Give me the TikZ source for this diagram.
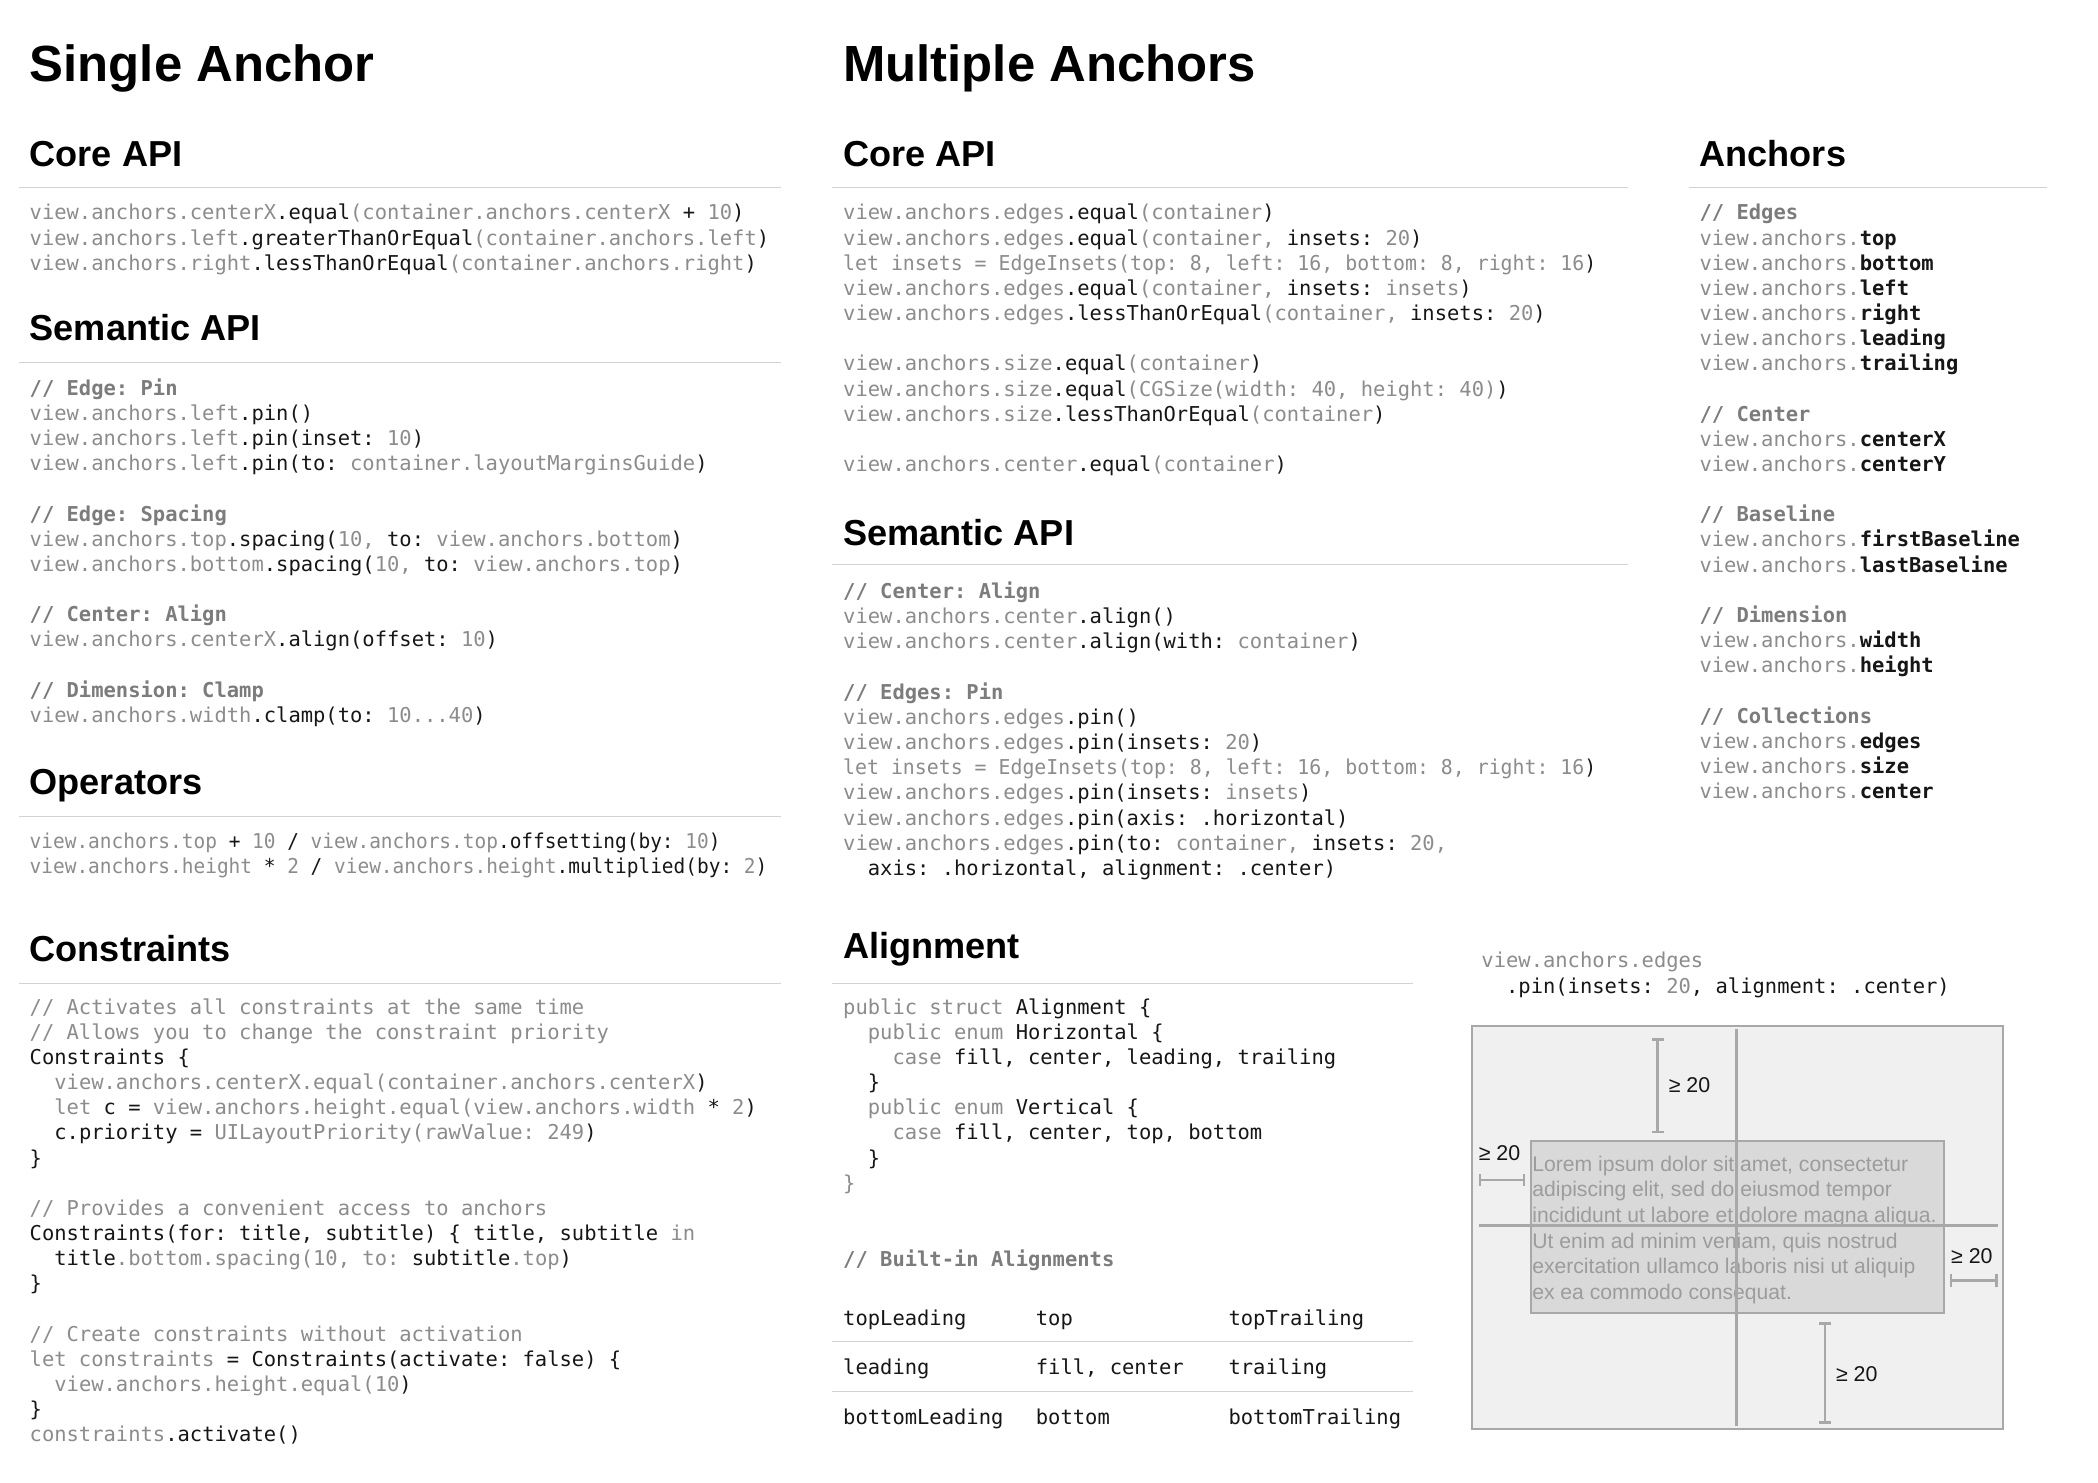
\documentclass[tikz,border=0pt]{standalone}
\usepackage{fontspec}
\usetikzlibrary{arrows.meta}

\newfontfamily\headfont{Liberation Sans}
\newfontfamily\codefont{DejaVu Sans Mono}
\newfontfamily\loremfont{Liberation Sans}

\definecolor{codegray}{HTML}{8C8C8C}
\definecolor{codeblack}{HTML}{161616}
\definecolor{commentgray}{HTML}{7C7C7C}
\definecolor{rulegray}{HTML}{D2D2D2}
\definecolor{boxfill}{HTML}{F0F0F0}
\definecolor{boxline}{HTML}{A8A8A8}
\definecolor{viewfill}{HTML}{D9D9D9}
\definecolor{loremgray}{HTML}{9C9C9C}

\newcommand\kw[1]{\textcolor{codeblack}{#1}}
\newcommand\kwb[1]{\textcolor{codeblack}{\bfseries #1}}
\newcommand\cmt[1]{\textcolor{commentgray}{\bfseries #1}}
\newcommand\ind{\phantom{xx}}
\newcommand\codestrut{\rule{0pt}{13.2pt}}
\newcommand\narrow[2]{\scalebox{#1}[1]{#2}}

\tikzset{
  title/.style={anchor=base west, inner sep=0pt, font=\headfont\bfseries\fontsize{38}{42}\selectfont},
  head/.style={anchor=base west, inner sep=0pt, font=\headfont\bfseries\fontsize{27}{30}\selectfont},
  code/.style={anchor=north west, inner sep=0pt, align=left, text=codegray,
    font=\codefont\fontsize{15.3}{18.8}\selectfont\frenchspacing},
  cell/.style={code, anchor=base west, text=codeblack},
  hrule/.style={draw=rulegray, line width=1pt},
  gauge/.style={draw=boxline, line width=2pt, {Bar[width=9pt]}-{Bar[width=9pt]}},
  gaugelabel/.style={anchor=west, inner sep=0pt, text=codeblack,
    font=\loremfont\fontsize{16}{18}\selectfont},
}

\begin{document}
\begin{tikzpicture}[x=1pt, y=-1pt]
  \useasboundingbox[fill=white] (0,0) rectangle (1568,1108);

  % Titles
  \node[title] (single) at (22,61) {Single Anchor};
  \node[title] (multiple) at (630,61) {Multiple Anchors};

  %-------------------------------------
  % Single anchor column
  %-------------------------------------
  \node[head] (lcorehead) at (22,124.7) {Core API};
  \draw[hrule] (14,140) -- (584,140);
  \node[code] (lcore) at (22,151) {\codestrut view.anchors.centerX\kw{.equal}(container.anchors.centerX \kw{+} 10\kw{)}\\
view.anchors.left\kw{.greaterThanOrEqual}(container.anchors.left\kw{)}\\
view.anchors.right\kw{.lessThanOrEqual}(container.anchors.right\kw{)}};

  \node[head] (lsemhead) at (22,254.7) {Semantic API};
  \draw[hrule] (14,271) -- (584,271);
  \node[code] (lsem) at (22,282) {\codestrut\cmt{// Edge: Pin}\\
view.anchors.left\kw{.pin()}\\
view.anchors.left\kw{.pin(inset:} 10\kw{)}\\
view.anchors.left\kw{.pin(to:} container.layoutMarginsGuide\kw{)}\\
\mbox{}\\
\cmt{// Edge: Spacing}\\
view.anchors.top\kw{.spacing(}10, \kw{to:} view.anchors.bottom\kw{)}\\
view.anchors.bottom\kw{.spacing(}10, \kw{to:} view.anchors.top\kw{)}\\
\mbox{}\\
\cmt{// Center: Align}\\
view.anchors.centerX\kw{.align(offset:} 10\kw{)}\\
\mbox{}\\
\cmt{// Dimension: Clamp}\\
view.anchors.width\kw{.clamp(to:} 10...40\kw{)}};

  \node[head] (lopshead) at (22,593.7) {Operators};
  \draw[hrule] (14,610) -- (584,610);
  \node[code] (lops) at (22,621) {\codestrut\narrow{0.95}{view.anchors.top \kw{+} 10 \kw{/} view.anchors.top\kw{.offsetting(by:} 10\kw{)}}\\
\narrow{0.95}{view.anchors.height \kw{*} 2 \kw{/} view.anchors.height\kw{.multiplied(by:} 2\kw{)}}};

  \node[head] (lconshead) at (22,718.7) {Constraints};
  \draw[hrule] (14,735) -- (584,735);
  \node[code] (lcons) at (22,744.5) {\codestrut// Activates all constraints at the same time\\
// Allows you to change the constraint priority\\
\kw{Constraints \{}\\
\ind view.anchors.centerX.equal(container.anchors.centerX\kw{)}\\
\ind let \kw{c =} view.anchors.height.equal(view.anchors.width \kw{*} 2\kw{)}\\
\ind\kw{c.priority =} UILayoutPriority(rawValue: 249\kw{)}\\
\kw{\}}\\
\mbox{}\\
// Provides a convenient access to anchors\\
\kw{Constraints(for: title, subtitle) \{ title, subtitle} in\\
\ind\kw{title}.bottom.spacing(10, to: \kw{subtitle}.top\kw{)}\\
\kw{\}}\\
\mbox{}\\
// Create constraints without activation\\
let constraints \kw{= Constraints(activate: false) \{}\\
\ind view.anchors.height.equal(10\kw{)}\\
\kw{\}}\\
constraints\kw{.activate()}};

  %-------------------------------------
  % Multiple anchors column
  %-------------------------------------
  \node[head] (mcorehead) at (630,124.7) {Core API};
  \draw[hrule] (622,140) -- (1217,140);
  \node[code] (mcore) at (630,151) {\codestrut view.anchors.edges\kw{.equal}(container\kw{)}\\
view.anchors.edges\kw{.equal}(container, \kw{insets:} 20\kw{)}\\
\narrow{0.97}{let insets = EdgeInsets(top: 8, left: 16, bottom: 8, right: 16\kw{)}}\\
view.anchors.edges\kw{.equal}(container, \kw{insets:} insets\kw{)}\\
view.anchors.edges\kw{.lessThanOrEqual}(container, \kw{insets:} 20\kw{)}\\
\mbox{}\\
view.anchors.size\kw{.equal}(container\kw{)}\\
view.anchors.size\kw{.equal}(CGSize(width: 40, height: 40)\kw{)}\\
view.anchors.size\kw{.lessThanOrEqual}(container\kw{)}\\
\mbox{}\\
view.anchors.center\kw{.equal}(container\kw{)}};

  \node[head] (msemhead) at (630,407.7) {Semantic API};
  \draw[hrule] (622,422) -- (1217,422);
  \node[code] (msem) at (630,434) {\codestrut\cmt{// Center: Align}\\
view.anchors.center\kw{.align()}\\
view.anchors.center\kw{.align(with:} container\kw{)}\\
\mbox{}\\
\cmt{// Edges: Pin}\\
view.anchors.edges\kw{.pin()}\\
view.anchors.edges\kw{.pin(insets:} 20\kw{)}\\
\narrow{0.97}{let insets = EdgeInsets(top: 8, left: 16, bottom: 8, right: 16\kw{)}}\\
view.anchors.edges\kw{.pin(insets:} insets\kw{)}\\
view.anchors.edges\kw{.pin(axis: .horizontal)}\\
view.anchors.edges\kw{.pin(to:} container, \kw{insets:} 20,\\
\ind\kw{axis: .horizontal, alignment: .center)}};

  \node[head] (malignhead) at (630,716.7) {Alignment};
  \draw[hrule] (622,735) -- (1056,735);
  \node[code] (malign) at (630,744.5) {\codestrut public struct \kw{Alignment \{}\\
\ind public enum \kw{Horizontal \{}\\
\ind\ind case \kw{fill, center, leading, trailing}\\
\ind\kw{\}}\\
\ind public enum \kw{Vertical \{}\\
\ind\ind case \kw{fill, center, top, bottom}\\
\ind\kw{\}}\\
\}};

  \node[code] (mbuilt) at (630,933) {\codestrut\cmt{// Built-in Alignments}};

  % Built-in alignments table
  \foreach \y/\ca/\cb/\cc in {990.5/topLeading/top/topTrailing,
      1027.5/leading/{fill, center}/trailing,
      1064.5/bottomLeading/bottom/bottomTrailing}{
    \node[cell] (cella\y) at (630,\y) {\ca};
    \node[cell] (cellb\y) at (774,\y) {\cb};
    \node[cell] (cellc\y) at (918,\y) {\cc};
  }
  \draw[hrule] (622,1002.5) -- (1056,1002.5);
  \draw[hrule] (622,1040) -- (1056,1040);

  %-------------------------------------
  % Anchors column
  %-------------------------------------
  \node[head] (ranchhead) at (1270,124.7) {Anchors};
  \draw[hrule] (1262,140) -- (1530,140);
  \node[code] (ranch) at (1270,151) {\codestrut\cmt{// Edges}\\
view.anchors.\kwb{top}\\
view.anchors.\kwb{bottom}\\
view.anchors.\kwb{left}\\
view.anchors.\kwb{right}\\
view.anchors.\kwb{leading}\\
view.anchors.\kwb{trailing}\\
\mbox{}\\
\cmt{// Center}\\
view.anchors.\kwb{centerX}\\
view.anchors.\kwb{centerY}\\
\mbox{}\\
\cmt{// Baseline}\\
view.anchors.\kwb{firstBaseline}\\
view.anchors.\kwb{lastBaseline}\\
\mbox{}\\
\cmt{// Dimension}\\
view.anchors.\kwb{width}\\
view.anchors.\kwb{height}\\
\mbox{}\\
\cmt{// Collections}\\
view.anchors.\kwb{edges}\\
view.anchors.\kwb{size}\\
view.anchors.\kwb{center}};

  %-------------------------------------
  % Pin diagram
  %-------------------------------------
  \node[code] (dcode) at (1107,710) {\codestrut view.anchors.edges\\
\ind\kw{.pin(insets:} 20\kw{, alignment: .center)}};

  % container and pinned view
  \draw[draw=boxline, line width=1.5pt, fill=boxfill] (1100,767) rectangle (1497,1068);
  \draw[draw=boxline, line width=1.5pt, fill=viewfill] (1144,853) rectangle (1453,981);
  \node[anchor=north west, inner sep=0pt, align=left, text=loremgray,
    font=\loremfont\fontsize{15.8}{19.2}\selectfont] (lorem) at (1145,861)
    {\rule{0pt}{14pt}Lorem ipsum dolor sit amet, consectetur\\
adipiscing elit, sed do eiusmod tempor\\
incididunt ut labore et dolore magna aliqua.\\
Ut enim ad minim veniam, quis nostrud\\
exercitation ullamco laboris nisi ut aliquip\\
ex ea commodo consequat.};

  % center lines
  \draw[draw=boxline, line width=2pt] (1298,769) -- (1298,1066);
  \draw[draw=boxline, line width=2pt] (1105,916) -- (1493,916);

  % insets
  \draw[gauge] (1239,776) -- (1239,847);
  \node[gaugelabel] (gtop) at (1247,811) {≥ 20};
  \draw[gauge] (1105,882) -- (1140,882);
  \node[gaugelabel] (gleft) at (1105,862) {≥ 20};
  \draw[gauge] (1457,957) -- (1493,957);
  \node[gaugelabel] (gright) at (1458,939) {≥ 20};
  \draw[gauge] (1364,988) -- (1364,1064);
  \node[gaugelabel] (gbottom) at (1372,1027) {≥ 20};

\end{tikzpicture}
\end{document}
